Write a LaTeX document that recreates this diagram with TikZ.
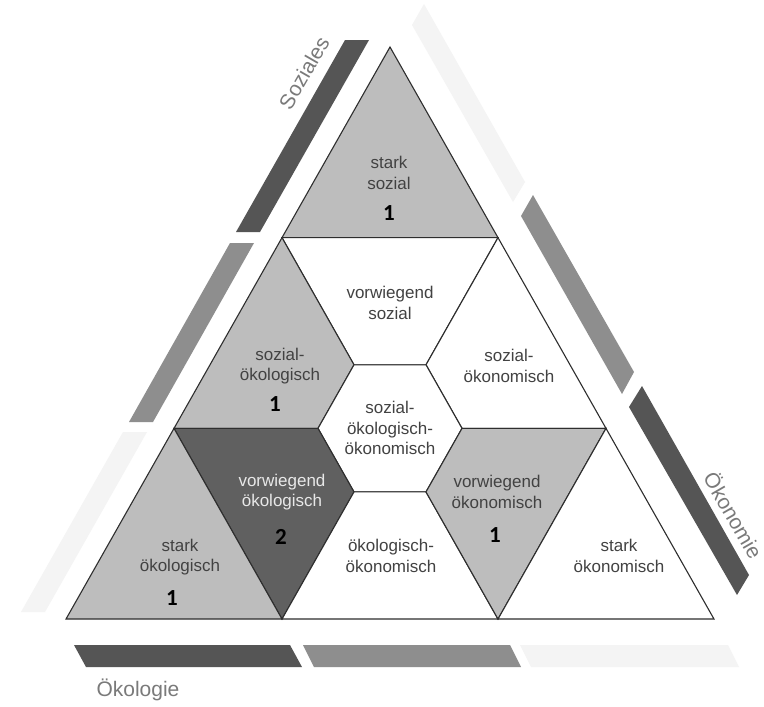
\documentclass[tikz,border=0pt]{standalone}
\usepackage{fontspec}
\setmainfont{Liberation Sans}
\newfontfamily\numfont{Carlito}
\definecolor{lightcell}{HTML}{BDBDBD}
\definecolor{darkcell}{HTML}{606060}
\definecolor{edgecol}{HTML}{2E2E2E}
\definecolor{bardark}{HTML}{555555}
\definecolor{barmid}{HTML}{8E8E8E}
\definecolor{barfaint}{HTML}{F4F4F4}
\definecolor{txt}{HTML}{424242}
\definecolor{lighttxt}{HTML}{E8E8E8}
\definecolor{labelcol}{HTML}{7A7A7A}
\begin{document}
\begin{tikzpicture}[x=1pt,y=-1pt,
  cell/.style={draw=edgecol,line width=1.1pt,line join=miter},
  celltext/.style={font=\fontsize{17}{20.5}\selectfont,text=txt,align=center,inner sep=0pt},
  num/.style={font=\numfont\bfseries\fontsize{23}{23}\selectfont,text=black,inner sep=0pt},
  side/.style={font=\fontsize{21}{21}\selectfont,text=labelcol,inner sep=0pt}]
\useasboundingbox (0,0) rectangle (764,707);
\fill[white] (0,0) rectangle (764,707);
% lattice points
\foreach \r in {0,...,9}{\foreach \k in {0,...,\r}{\coordinate (p\r-\k) at ({390-36*\r+72*\k},{47+63.56*\r});}}
% side bars
\fill[bardark] (369,40) -- (345,40) -- (236,232) -- (260,232) -- cycle;
\fill[barmid] (254,243) -- (230,243) -- (129,422) -- (153,422) -- cycle;
\fill[barfaint] (147,432) -- (123,432) -- (21,612) -- (45,612) -- cycle;
\fill[barfaint] (412,25) -- (513,202) -- (525,182) -- (424,4) -- cycle;
\fill[barmid] (521,216) -- (622,394) -- (634,372) -- (533,195) -- cycle;
\fill[bardark] (629,407) -- (737,595) -- (749,575) -- (642,386) -- cycle;
\fill[bardark] (74,645) -- (290,645) -- (302,667) -- (86,667) -- cycle;
\fill[barmid] (303,645) -- (510,645) -- (521,667) -- (314,667) -- cycle;
\fill[barfaint] (520,645) -- (728,645) -- (739,667) -- (531,667) -- cycle;
% cells
\filldraw[cell,fill=lightcell] (p0-0) -- (p3-0) -- (p3-3) -- cycle;
\filldraw[cell,fill=white] (p3-0) -- (p3-3) -- (p5-3) -- (p5-2) -- cycle;
\filldraw[cell,fill=lightcell] (p3-0) -- (p6-0) -- (p6-2) -- (p5-2) -- cycle;
\filldraw[cell,fill=white] (p3-3) -- (p5-3) -- (p6-4) -- (p6-6) -- cycle;
\filldraw[cell,fill=white] (p5-2) -- (p5-3) -- (p6-4) -- (p7-4) -- (p7-3) -- (p6-2) -- cycle;
\filldraw[cell,fill=darkcell] (p6-0) -- (p6-2) -- (p7-3) -- (p9-3) -- cycle;
\filldraw[cell,fill=lightcell] (p6-0) -- (p9-0) -- (p9-3) -- cycle;
\filldraw[cell,fill=white] (p7-3) -- (p7-4) -- (p9-6) -- (p9-3) -- cycle;
\filldraw[cell,fill=lightcell] (p6-4) -- (p6-6) -- (p9-6) -- (p7-4) -- cycle;
\filldraw[cell,fill=white] (p6-6) -- (p9-9) -- (p9-6) -- cycle;
% texts
\node[celltext] (ss) at (389,173) {stark\\sozial};
\node[num] (nss) at (389,213) {1};
\node[celltext] (vs) at (390,303) {vorwiegend\\sozial};
\node[celltext] (so) at (280,366) {sozial-\\ökologisch};
\node[num] (nso) at (275,404) {1};
\node[celltext] (sk) at (509,366) {sozial-\\ökonomisch};
\node[celltext] (hex) at (390,428) {sozial-\\ökologisch-\\ökonomisch};
\node[celltext,text=lighttxt] (vo) at (282,492) {vorwiegend\\ökologisch};
\node[num] (nvo) at (281,537) {2};
\node[celltext] (vk) at (497,492) {vorwiegend\\ökonomisch};
\node[num] (nvk) at (495,535) {1};
\node[celltext] (ok) at (391,556) {ökologisch-\\ökonomisch};
\node[celltext] (sl) at (180,557) {stark\\ökologisch};
\node[num] (nsl) at (172,598) {1};
\node[celltext] (sn) at (619,556) {stark\\ökonomisch};
% side labels
\node[side,rotate=60] (soziales) at (304,73) {Soziales};
\node[side,rotate=-60] (oekonomie) at (734,515) {Ökonomie};
\node[side] (oekologie) at (138,690) {Ökologie};
\end{tikzpicture}
\end{document}
